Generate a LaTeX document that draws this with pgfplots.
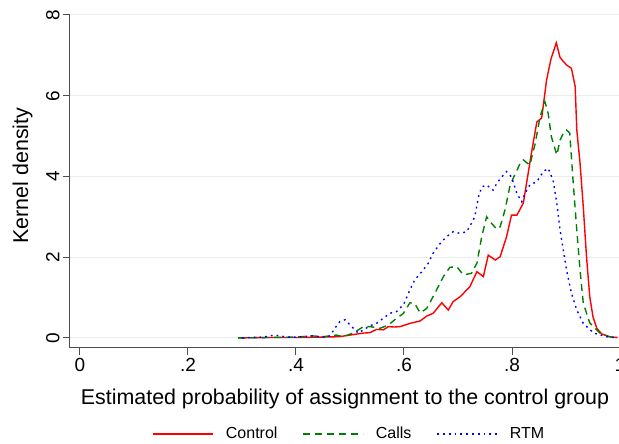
\documentclass[border=0pt]{standalone}
\usepackage{fontspec}
\setmainfont{Liberation Sans}
\usepackage{pgfplots}
\pgfplotsset{compat=1.18}
\definecolor{cred}{RGB}{255,0,0}
\definecolor{cgreen}{RGB}{0,128,0}
\definecolor{cblue}{RGB}{0,0,255}

\begin{document}
\begin{tikzpicture}
\begin{axis}[
    scale only axis,
    width=550pt, height=333pt,
    xmin=-0.0185, xmax=1, ymin=-0.25, ymax=8,
    axis x line*=bottom, axis y line*=left,
    axis line style={-, black!70, line width=1pt},
    xtick={0,0.2,0.4,0.6,0.8,1}, xticklabels={0,.2,.4,.6,.8,1},
    ytick={0,2,4,6,8}, yticklabels={0,2,4,6,8},
    tick align=outside, major tick length=7pt,
    tick style={black!70, line width=1pt},
    ymajorgrids, grid style={gray!15, line width=1pt},
    ticklabel style={font=\fontsize{19}{22}\selectfont},
    yticklabel style={rotate=90, anchor=south},
    xlabel={Estimated probability of assignment to the control group},
    ylabel={Kernel density},
    label style={font=\fontsize{21.4}{25}\selectfont},
    xlabel style={at={(axis description cs:0.5,-0.152)}, anchor=center},
    ylabel style={at={(axis description cs:-0.0864,0.518)}, anchor=center},
    legend style={at={(axis description cs:0.508,-0.258)}, anchor=center,
        draw=none, legend columns=3, font=\fontsize{16}{19}\selectfont,
        /tikz/every odd column/.append style={column sep=10pt},
        /tikz/every even column/.append style={column sep=23pt}},
    legend image code/.code={\draw[#1] (0pt,0pt) -- (60pt,0pt);},
]
% Control
\addplot[cred, line width=1.4pt] coordinates {
(0.293,0) (0.35,0.01) (0.40,0.01) (0.45,0.02) (0.48,0.03) (0.50,0.07)
(0.525,0.12) (0.537,0.13) (0.549,0.21) (0.562,0.20) (0.571,0.28) (0.582,0.27)
(0.593,0.28) (0.611,0.36) (0.630,0.42) (0.642,0.54) (0.654,0.61) (0.670,0.87)
(0.682,0.69) (0.691,0.90) (0.704,1.02) (0.722,1.27) (0.735,1.64) (0.747,1.52)
(0.756,2.05) (0.769,1.93) (0.778,2.01) (0.790,2.51) (0.799,3.04) (0.809,3.04)
(0.821,3.34) (0.836,4.58) (0.846,5.35) (0.855,5.45) (0.864,6.39) (0.872,6.9)
(0.882,7.31) (0.889,6.95) (0.895,6.85) (0.902,6.75) (0.910,6.68) (0.917,6.23)
(0.920,5.15) (0.926,4.33) (0.932,3.25) (0.938,2.01) (0.944,1.02) (0.950,0.52)
(0.957,0.24) (0.966,0.10) (0.980,0.03) (0.995,0.01)
};
\addlegendentry{Control}
% Calls
\addplot[cgreen, line width=1.4pt, dash pattern=on 7pt off 5pt] coordinates {
(0.293,0) (0.35,0.01) (0.40,0.02) (0.43,0.05) (0.45,0.03) (0.475,0.07)
(0.487,0.03) (0.506,0.12) (0.525,0.28) (0.537,0.28) (0.556,0.24) (0.571,0.32)
(0.583,0.45) (0.599,0.61) (0.611,0.87) (0.620,0.85) (0.630,0.62) (0.642,0.73)
(0.657,1.10) (0.673,1.52) (0.685,1.75) (0.698,1.76) (0.710,1.56) (0.725,1.60)
(0.735,1.85) (0.744,2.51) (0.753,3.00) (0.762,2.84) (0.772,2.69) (0.778,2.75)
(0.787,3.17) (0.796,3.75) (0.802,3.95) (0.815,4.32) (0.821,4.41) (0.833,4.28)
(0.843,4.82) (0.852,5.48) (0.861,5.85) (0.867,5.56) (0.873,4.98) (0.883,4.53)
(0.889,4.90) (0.895,5.07) (0.901,5.15) (0.907,5.07) (0.913,3.91) (0.920,2.67)
(0.926,1.68) (0.932,0.86) (0.944,0.37) (0.963,0.12) (0.980,0.03) (0.995,0.01)
};
\addlegendentry{Calls}
% RTM
\addplot[cblue, line width=1.4pt, dash pattern=on 1.8pt off 4pt] coordinates {
(0.30,0) (0.339,0.02) (0.361,0.07) (0.383,0.02) (0.401,0.02) (0.432,0.05)
(0.45,0.02) (0.463,0.05) (0.472,0.24) (0.481,0.40) (0.491,0.45) (0.506,0.24)
(0.515,0.12) (0.525,0.20) (0.537,0.30) (0.549,0.36) (0.562,0.49) (0.574,0.61)
(0.586,0.65) (0.599,0.82) (0.611,1.19) (0.620,1.44) (0.633,1.64) (0.645,1.85)
(0.654,2.10) (0.667,2.34) (0.679,2.51) (0.691,2.63) (0.704,2.59) (0.716,2.63)
(0.725,2.84) (0.731,3.00) (0.738,3.50) (0.744,3.74) (0.753,3.79) (0.765,3.66)
(0.772,3.83) (0.781,3.99) (0.790,4.12) (0.799,3.99) (0.809,3.58) (0.818,3.37)
(0.824,3.58) (0.833,3.79) (0.846,3.87) (0.858,4.12) (0.867,4.20) (0.876,3.91)
(0.883,3.34) (0.889,2.67) (0.895,2.18) (0.901,1.68) (0.910,1.11) (0.920,0.69)
(0.932,0.36) (0.951,0.12) (0.975,0.03) (0.995,0.00)
};
\addlegendentry{RTM}
\end{axis}
\pgfresetboundingbox
\useasboundingbox (-70pt,-96pt) rectangle (549pt,348pt);
\end{tikzpicture}
\end{document}
